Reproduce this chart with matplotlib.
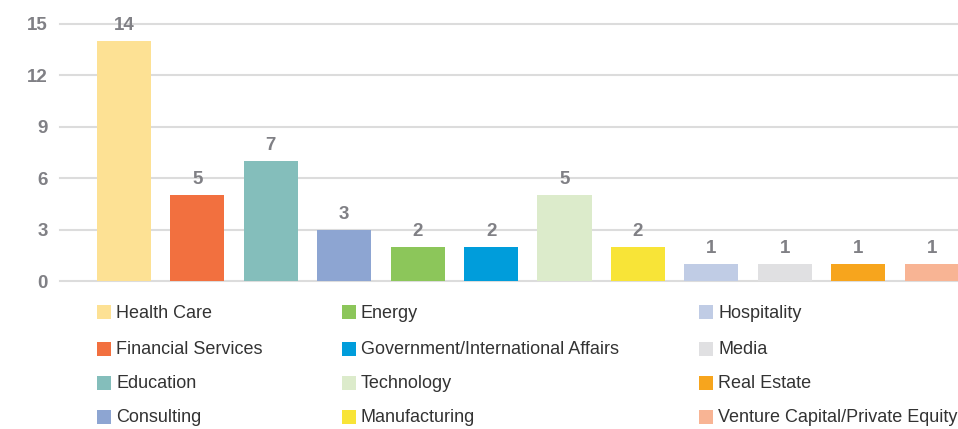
import matplotlib.pyplot as plt
from matplotlib.patches import Rectangle

plt.rcParams["font.family"] = ["Liberation Sans", "DejaVu Sans"]

CATEGORIES = [
    "Health Care", "Financial Services", "Education", "Consulting",
    "Energy", "Government/International Affairs", "Technology", "Manufacturing",
    "Hospitality", "Media", "Real Estate", "Venture Capital/Private Equity",
]
COUNTS = [14, 5, 7, 3, 2, 2, 5, 2, 1, 1, 1, 1]
COLORS = [
    "#FDE194", "#F2703F", "#84BEBB", "#8DA5D2",
    "#8CC65A", "#009DDB", "#DCEBCB", "#F8E437",
    "#C0CCE5", "#E0E0E2", "#F7A51D", "#F8B494",
]
Y_TICKS = [0, 3, 6, 9, 12, 15]

W, H = 958, 429
GRAY = "#808085"


def main():
    fig = plt.figure(figsize=(W / 100, H / 100), dpi=100)
    ax = fig.add_axes([60 / W, 1 - 281 / H, 1 - 60 / W, (281 - 24) / H])

    x = list(range(len(CATEGORIES)))
    bars = ax.bar(x, COUNTS, width=0.736, color=COLORS, zorder=3)
    for b, v in zip(bars, COUNTS):
        ax.annotate(str(v), (b.get_x() + b.get_width() / 2, v),
                    xytext=(0, 5), textcoords="offset points",
                    ha="center", va="bottom", fontsize=13.5,
                    fontweight="bold", color=GRAY)

    ax.set_xlim(-0.872, 11.36)
    ax.set_ylim(0, 15)
    ax.set_yticks(Y_TICKS)
    ax.set_xticks([])
    ax.tick_params(axis="y", length=0, pad=9, labelsize=13.5, labelcolor=GRAY)
    for lab in ax.get_yticklabels():
        lab.set_fontweight("bold")
    ax.grid(axis="y", color="#dcdcdc", lw=1.5, zorder=0)
    for gl in ax.get_ygridlines():
        gl.set_clip_on(False)
    for s in ax.spines.values():
        s.set_visible(False)

    # legend laid out in three columns of four
    col_x = [97, 342, 699]
    row_y = [312, 349, 383, 417]
    sq = 14
    for i, (name, c) in enumerate(zip(CATEGORIES, COLORS)):
        cx = col_x[i // 4]
        cy = row_y[i % 4]
        fig.add_artist(Rectangle((cx / W, 1 - (cy + sq / 2) / H), sq / W, sq / H,
                                 transform=fig.transFigure, color=c, lw=0))
        fig.text((cx + 19) / W, 1 - (cy + 1) / H, name, fontsize=13,
                 color="#333333", va="center", ha="left")

    fig.savefig("out.png", dpi=100)


if __name__ == "__main__":
    main()
